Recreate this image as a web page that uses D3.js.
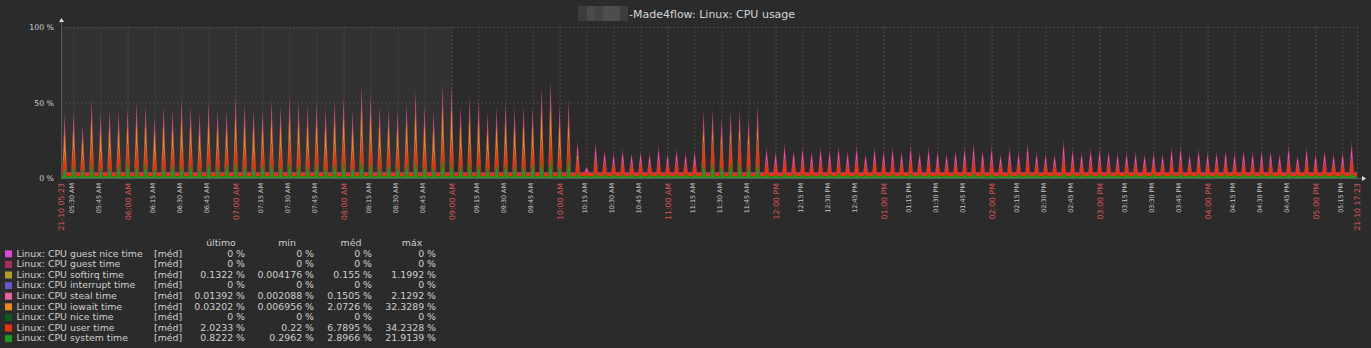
<!DOCTYPE html>
<html><head><meta charset="utf-8">
<script src="https://cdn.jsdelivr.net/npm/d3@7"></script>
<style>
html,body{margin:0;padding:0;background:#2b2b2b;}
svg{display:block;font-family:"DejaVu Sans",sans-serif;}
</style>
</head><body>
<svg id="chart" width="1371" height="348"></svg>
<script>
// ---------------- DATA ----------------
const titleText = "-Made4flow: Linux: CPU usage";
const startLabel = "21-10 05:23";
const endLabel = "21-10 17:23";
const startTime = new Date(2021, 9, 21, 5, 23);
const endTime = new Date(2021, 9, 21, 17, 23);
const firstPeak = new Date(2021, 9, 21, 5, 25);
const cycleMinutes = 5;      // one load spike every 5 minutes
const yTicks = [0, 50, 100];
const yTickLabels = ["0 %", "50 %", "100 %"];

// peak value of each series for each 5-minute spike (144 spikes)
const systemPeaks = [
 7,9,7,11,7,8,10,12,9,11,7,8,10,9,10,8,11,9,10,12,9,8,10,11,9,12,10,9,11,8,10,12,8,13,11,9,10,9,10,12,9,8,13,12,9,11,10,8,9,10,9,9,10,12,13,9,14,
 4,2,4,3,3,3,3,3,3,3,3,3,3,3,
 10,11,9,10,12,9,11,
 3,2.5,3.5,3,3,2.5,3,3,3.5,2.5,3,2.5,3,3,3,2.5,3.5,3,3,2.5,2.5,3,3,3.5,3,3,2.5,3,3,3.5,3,2.5,2.5,3.5,3,3,3,3,3,2.5,3,3,2.5,3,2.5,3,3.5,2.5,3,3,3,3,2.5,3,3,3,3,2.5,3.5,2.5,3,2.5,3,2.5,3,3.5];
const userPeaks = [
 10,12,9,13,11,12,11,12,13,12,10,12,11,13,12,11,13,12,11,14,12,11,12,13,12,14,13,12,13,12,13,14,11,15,14,12,12,12,13,14,12,11,15,15,12,13,13,11,12,13,12,12,12,15,16,12,13,
 9,3,9,8,7,8,7,7,7,9,7,8,7,7,
 15,15,14,15,15,14,16,
 8.5,7.5,9.5,7.5,8.5,7.5,8.5,7.5,8.5,7.5,9,7,8.5,7.5,8.5,7.5,9,7,8.5,7.5,7,7.5,8.5,9.5,7.5,9,7,8.5,7,10,7,7,7,10.5,8,7,8,8,7.5,7,7,7,7,7,7,8.5,8.5,7,8,7,7,7.5,7,7.5,7,7.5,7.5,7,9,6.5,8.5,7,7.5,7,7,10];
const iowaitPeaks = [
 17,15,13,19,17,17,15,14,19,17,17,19,16,21,17,16,17,16,15,19,19,18,15,18,18,19,18,19,17,18,19,19,17,23,21,18,16,16,17,21,19,17,24,25,18,20,20,16,17,18,17,18,17,23,24,19,15,
 4,0.2,2,0.5,0.6,0.4,0.5,0.6,0.5,0.5,0.4,0.6,0.5,0.5,
 10,10,9,10,9,9,11,
 0.5,0.4,0.6,0.5,0.5,0.4,0.6,0.5,0.5,0.4,0.6,0.5,0.5,0.4,0.5,0.6,0.5,0.4,0.5,0.6,0.5,0.4,0.5,0.6,0.5,0.5,0.4,0.5,0.6,0.5,0.4,0.5,0.5,0.6,0.5,0.4,0.5,0.5,0.6,0.4,0.5,0.5,0.4,0.6,0.5,0.5,0.4,0.5,0.6,0.5,0.5,0.4,0.5,0.6,0.5,0.5,0.4,0.5,0.6,0.5,0.4,0.5,0.5,0.6,0.5,0.5];
const stealPeaks = [
 7,7,5,8,7,7,7,7,8,7,6,7,7,8,7,7,8,7,7,8,8,7,7,8,7,8,8,7,8,7,8,8,7,9,9,7,7,7,8,9,7,7,9,9,7,8,8,7,7,8,7,7,7,9,10,7,8,
 6,2,7,6,5,6.5,5,6,5,7,5,6.5,5,6.5,
 8,8,7,8,8,7,9,
 7,6,7.5,6,7,6,7,6,7,6,7,5,7,6,7,6,7,5.5,7,6,5,6,7,7.5,6,7,5,7,5.5,7.5,5.5,5,5,8.5,6.5,5.5,6.5,6.5,6,5.5,5.5,5.5,5,5.5,5,7,7,5,6.5,5.5,5.5,6,5.5,6,5.5,6,6,5,7,4.5,7,5,6,5,5.5,8];
const guestPeaks = [
 3,3,2,3,3,3,3,3,3,3,2,3,3,3,3,3,3,3,3,3,3,3,3,3,3,3,3,3,3,3,3,3,3,3,3,3,3,3,3,3,3,3,3,3,3,3,3,3,3,3,3,3,3,3,3,3,3,
 2,0.8,2,1.5,1.5,2,1.5,1.5,1.5,2.5,1.5,2,1.5,2,
 3,3,3,3,3,3,3,
 2,2,2.5,2,2,2,2,2,2,2,2.5,1.5,2,2,2,2,2.5,2,2,2,1.5,2,2,2.5,2,2.5,1.5,2,2,2.5,2,1.5,1.5,3,2,2,2,2,2,2,2,2,1.5,2,1.5,2,2,1.5,2,2,2,2,2,2,2,2,2,1.5,2.5,1.5,2,1.5,2,1.5,2,3];
// level of each series between spikes
const systemBase = 1.2, userBase = 1.7, iowaitBase = 0.1, stealBase = 0.7, guestBase = 0.3;

// legend
const legendNames = ["Linux: CPU guest nice time","Linux: CPU guest time","Linux: CPU softirq time","Linux: CPU interrupt time","Linux: CPU steal time","Linux: CPU iowait time","Linux: CPU nice time","Linux: CPU user time","Linux: CPU system time"];
const legendColors = ["#d64bd6","#a3305c","#b59b2e","#6a56c8","#e8609e","#e88a22","#0f5a1e","#e8340e","#1f981f"];
const legendFunc = "[méd]";
const statHeaders = ["último","mín","méd","máx"];
const lastVals = ["0 %","0 %","0.1322 %","0 %","0.01392 %","0.03202 %","0 %","2.0233 %","0.8222 %"];
const minVals  = ["0 %","0 %","0.004176 %","0 %","0.002088 %","0.006956 %","0 %","0.22 %","0.2962 %"];
const avgVals  = ["0 %","0 %","0.155 %","0 %","0.1505 %","2.0726 %","0 %","6.7895 %","2.8966 %"];
const maxVals  = ["0 %","0 %","1.1992 %","0 %","2.1292 %","32.3289 %","0 %","34.2328 %","21.9139 %"];

// stacking order (bottom to top) and colours of drawn series
const stackKeys = ["system","user","iowait","steal","guest"];
const stackColors = {system:"#1f981f", user:"#f0320c", iowait:"#e88a22", steal:"#f050a8", guest:"#a3305c"};

// ---------------- BUILD SAMPLES ----------------
const halfWidth = 1.25; // minutes from spike peak to base
const samples = [];
const base = {system:systemBase,user:userBase,iowait:iowaitBase,steal:stealBase,guest:guestBase};
samples.push(Object.assign({t:startTime}, base));
systemPeaks.forEach((_, i) => {
  const tp = d3.timeMinute.offset(firstPeak, i * cycleMinutes);
  samples.push(Object.assign({t:new Date(+tp - halfWidth*60000)}, base));
  samples.push({t:tp, system:systemPeaks[i], user:userPeaks[i], iowait:iowaitPeaks[i], steal:stealPeaks[i], guest:guestPeaks[i]});
  samples.push(Object.assign({t:new Date(+tp + halfWidth*60000)}, base));
});
samples.push(Object.assign({t:endTime}, base));

// ---------------- LAYOUT ----------------
const svg = d3.select("#chart");
const W = 1371, H = 348;
const plot = {left:61, right:1357, top:27, bottom:178};
const x = d3.scaleTime().domain([startTime, endTime]).range([plot.left, plot.right]);
const y = d3.scaleLinear().domain([0, 100]).range([plot.bottom, plot.top]);

svg.append("rect").attr("width", W).attr("height", H).attr("fill", "#2b2b2b");
// shaded period
svg.append("rect").attr("x", x(startTime)).attr("y", plot.top)
  .attr("width", x(new Date(2021,9,21,9,0)) - x(startTime)).attr("height", plot.bottom - plot.top)
  .attr("fill", "#323232");

// title (with redacted host block)
const redact = [["#3c3c3c",578,9],["#4a4a4a",587,8],["#434343",595,8],["#4d4d4d",603,17],["#3d3d3d",620,8]];
redact.forEach(r => svg.append("rect").attr("x", r[1]).attr("y", 6).attr("width", r[2]).attr("height", 15).attr("fill", r[0]));
svg.append("text").attr("x", 629).attr("y", 18).attr("fill", "#d6d6d6").attr("font-size", 11).text(titleText);

// grid
const ticks15 = d3.timeMinute.every(15).range(startTime, endTime).filter(d => d > startTime);
const gridG = svg.append("g");
ticks15.forEach(t => {
  gridG.append("line").attr("x1", x(t)+0.5).attr("x2", x(t)+0.5).attr("y1", plot.top).attr("y2", plot.bottom)
    .attr("stroke", t.getMinutes() === 0 ? "#505050" : "#464646").attr("stroke-dasharray", "2,2");
});
gridG.append("line").attr("x1", plot.right+0.5).attr("x2", plot.right+0.5).attr("y1", plot.top).attr("y2", plot.bottom)
  .attr("stroke", "#4a4a4a").attr("stroke-dasharray", "2,2");
yTicks.filter(v => v > 0).forEach(v => {
  gridG.append("line").attr("x1", plot.left).attr("x2", plot.right).attr("y1", y(v)+0.5).attr("y2", y(v)+0.5)
    .attr("stroke", "#4a4a4a").attr("stroke-dasharray", "2,2");
});

// stacked areas
const stack = d3.stack().keys(stackKeys);
const series = stack(samples);
const area = d3.area().x(d => x(d.data.t)).y0(d => y(d[0])).y1(d => y(d[1]));
svg.append("g").selectAll("path").data(series).join("path")
  .attr("d", area).attr("fill", d => stackColors[d.key]);

// axes
svg.append("line").attr("x1", plot.left+0.5).attr("x2", plot.left+0.5).attr("y1", 22).attr("y2", plot.bottom+1)
  .attr("stroke", "#5a5a5a");
svg.append("line").attr("x1", plot.left).attr("x2", plot.right+5).attr("y1", plot.bottom+0.5).attr("y2", plot.bottom+0.5)
  .attr("stroke", "#5a5a5a");
svg.append("path").attr("d", `M${plot.left-2},${22} L${plot.left+3},${22} L${plot.left+0.5},${18} Z`).attr("fill", "#dddddd");
svg.append("path").attr("d", `M${plot.right+5},${plot.bottom-2} L${plot.right+5},${plot.bottom+3} L${plot.right+9},${plot.bottom+0.5} Z`).attr("fill", "#dddddd");

// y labels
yTicks.forEach((v, i) => {
  svg.append("text").attr("x", 54).attr("y", y(v) + 3).attr("text-anchor", "end")
    .attr("fill", "#cfcfcf").attr("font-size", 7.8).text(yTickLabels[i]);
});

// x labels
const fmt = d3.timeFormat("%I:%M %p");
ticks15.forEach(t => {
  const major = t.getMinutes() === 0;
  const fs = major ? 7.8 : 6.4;
  const bx = x(t) + (major ? 3 : 0.8);
  svg.append("text").attr("transform", `translate(${bx},183) rotate(-90)`)
    .attr("text-anchor", "end").attr("font-size", fs)
    .attr("fill", major ? "#d85656" : "#c8c8c8").text(fmt(t));
});
[[startTime, startLabel], [endTime, endLabel]].forEach(([t, lbl]) => {
  svg.append("text").attr("transform", `translate(${x(t)+3},183) rotate(-90)`)
    .attr("text-anchor", "end").attr("font-size", 7.8).attr("fill", "#d85656").text(lbl);
});

// legend
const rowY0 = 253.3, rowStep = 10.6;
const colEnds = [245, 314, 372, 436];
const colCenters = [221, 287, 351, 412];
statHeaders.forEach((h, i) => {
  svg.append("text").attr("x", colCenters[i]).attr("y", 245.9).attr("text-anchor", "middle")
    .attr("font-size", 9.4).attr("fill", "#cfcfcf").text(h);
});
legendNames.forEach((name, i) => {
  const cy = rowY0 + i * rowStep;
  svg.append("rect").attr("x", 5).attr("y", cy - 3).attr("width", 7).attr("height", 7).attr("fill", legendColors[i]);
  const row = [[16.5, name, "start"], [154, legendFunc, "start"],
    [colEnds[0], lastVals[i], "end"], [colEnds[1], minVals[i], "end"], [colEnds[2], avgVals[i], "end"], [colEnds[3], maxVals[i], "end"]];
  row.forEach(([tx, txt, anchor]) => {
    svg.append("text").attr("x", tx).attr("y", cy + 3.3).attr("text-anchor", anchor)
      .attr("font-size", 9.4).attr("fill", "#cfcfcf").text(txt);
  });
});
</script>
</body></html>
